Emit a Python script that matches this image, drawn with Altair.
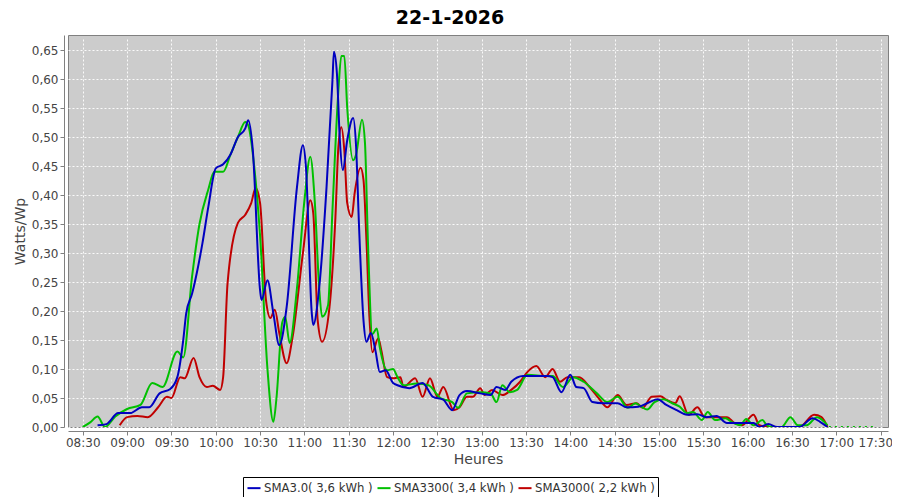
import altair as alt
import pandas as pd

# ---------------- data ----------------
series_names = ["SMA3.0( 3,6 kWh )", "SMA3300( 3,4 kWh )", "SMA3000( 2,2 kWh )"]
series_colors = ["#0000c0", "#00c000", "#c00000"]

blue_t = ["08:40","08:46","08:54","09:02","09:10","09:15","09:22","09:29","09:34","09:38","09:40","09:44","09:48","09:51","09:55","10:00","10:05","10:10","10:15","10:20","10:22","10:25","10:30","10:31","10:35","10:39","10:43","10:48","10:55","10:59","11:01","11:05","11:06","11:10","11:15","11:19","11:20","11:22","11:24","11:26","11:29","11:33","11:35","11:37","11:40","11:42","11:45","11:48","11:51","11:55","12:00","12:03","12:11","12:20","12:27","12:34","12:40","12:45","12:50","12:59","13:06","13:10","13:16","13:20","13:28","13:44","13:48","13:54","14:00","14:04","14:09","14:15","14:22","14:32","14:38","14:46","14:52","14:59","15:05","15:12","15:19","15:26","15:32","15:39","15:46","15:53","16:04","16:08","16:14","16:20","16:35","16:44","16:49","16:54"]
blue_v = [0.003,0.005,0.024,0.024,0.034,0.034,0.058,0.065,0.086,0.15,0.196,0.23,0.276,0.317,0.38,0.446,0.453,0.47,0.50,0.515,0.529,0.48,0.236,0.219,0.253,0.196,0.141,0.207,0.414,0.486,0.45,0.196,0.176,0.24,0.414,0.598,0.647,0.61,0.495,0.443,0.495,0.533,0.483,0.345,0.184,0.147,0.162,0.133,0.095,0.098,0.076,0.072,0.067,0.076,0.052,0.047,0.029,0.055,0.062,0.058,0.055,0.069,0.064,0.078,0.088,0.088,0.086,0.06,0.09,0.069,0.067,0.043,0.041,0.041,0.034,0.035,0.041,0.048,0.038,0.029,0.021,0.022,0.017,0.019,0.007,0.007,0.007,0.0,0.005,0.0,0.0,0.015,0.009,0.0]

green_t = ["08:30","08:35","08:40","08:45","08:52","09:00","09:09","09:17","09:24","09:34","09:38","09:44","09:49","09:55","09:59","10:05","10:10","10:15","10:20","10:22","10:26","10:30","10:35","10:39","10:41","10:45","10:47","10:50","10:55","11:00","11:04","11:07","11:10","11:12","11:16","11:19","11:23","11:25","11:27","11:29","11:33","11:35","11:39","11:41","11:43","11:46","11:49","11:51","11:56","12:00","12:03","12:07","12:16","12:24","12:32","12:40","12:44","12:50","12:59","13:06","13:10","13:14","13:19","13:24","13:31","13:44","13:48","13:55","14:02","14:09","14:18","14:25","14:32","14:39","14:44","14:48","14:52","14:57","15:03","15:09","15:14","15:19","15:23","15:29","15:33","15:38","15:45","15:49","15:55","15:59","16:04","16:10","16:13","16:17","16:23","16:29","16:34","16:40","16:47","16:54"]
green_v = [0.0,0.008,0.018,0.0,0.018,0.031,0.038,0.076,0.069,0.13,0.12,0.26,0.35,0.41,0.44,0.44,0.47,0.50,0.526,0.52,0.45,0.33,0.10,0.009,0.047,0.18,0.19,0.145,0.24,0.39,0.466,0.39,0.24,0.19,0.21,0.374,0.58,0.64,0.64,0.55,0.46,0.47,0.53,0.49,0.32,0.16,0.17,0.138,0.098,0.10,0.086,0.072,0.075,0.072,0.05,0.043,0.033,0.058,0.06,0.058,0.043,0.072,0.06,0.064,0.09,0.088,0.088,0.069,0.086,0.078,0.058,0.043,0.052,0.033,0.041,0.035,0.03,0.043,0.048,0.041,0.035,0.024,0.026,0.012,0.026,0.012,0.015,0.009,0.003,0.014,0.003,0.012,0.003,0.0,0.0,0.017,0.003,0.003,0.017,0.003]

green_tail_t = ["16:55","17:00","17:05","17:10","17:15","17:20","17:25"]
green_tail_v = [0.0,0.0,0.0,0.0,0.0,0.0,0.0]

red_t = ["08:55","09:00","09:07","09:14","09:21","09:27","09:30","09:36","09:39","09:45","09:49","09:54","09:58","10:03","10:05","10:08","10:15","10:20","10:24","10:27","10:30","10:34","10:37","10:40","10:43","10:48","10:52","10:59","11:04","11:06","11:09","11:12","11:17","11:21","11:23","11:25","11:27","11:29","11:32","11:34","11:38","11:40","11:42","11:44","11:46","11:50","11:52","11:56","12:00","12:05","12:07","12:15","12:20","12:25","12:30","12:34","12:41","12:45","12:50","12:54","12:59","13:02","13:07","13:14","13:20","13:26","13:31","13:37","13:43","13:48","13:53","13:58","14:06","14:13","14:20","14:25","14:32","14:38","14:45","14:49","14:55","15:01","15:05","15:11","15:14","15:20","15:26","15:31","15:38","15:46","15:51","15:56","16:04","16:08","16:15","16:35","16:45","16:50","16:54"]
red_v = [0.003,0.017,0.019,0.017,0.034,0.052,0.05,0.086,0.084,0.119,0.086,0.069,0.071,0.064,0.086,0.248,0.352,0.366,0.386,0.412,0.386,0.219,0.188,0.202,0.162,0.11,0.155,0.3,0.391,0.369,0.184,0.147,0.207,0.362,0.483,0.517,0.478,0.386,0.362,0.403,0.447,0.426,0.322,0.19,0.129,0.153,0.133,0.086,0.084,0.086,0.069,0.084,0.052,0.084,0.052,0.069,0.029,0.034,0.052,0.052,0.067,0.055,0.064,0.055,0.064,0.078,0.095,0.105,0.086,0.10,0.078,0.086,0.086,0.069,0.047,0.034,0.055,0.038,0.041,0.033,0.052,0.053,0.047,0.041,0.053,0.021,0.034,0.017,0.017,0.017,0.007,0.003,0.021,0.003,0.0,0.0,0.021,0.017,0.0]

x_ticks = ["08:30","09:00","09:30","10:00","10:30","11:00","11:30","12:00","12:30","13:00","13:30","14:00","14:30","15:00","15:30","16:00","16:30","17:00","17:30"]
y_ticks = [0.0,0.05,0.10,0.15,0.20,0.25,0.30,0.35,0.40,0.45,0.50,0.55,0.60,0.65]


def to_min(s):
    h, m = s.split(":")
    return int(h) * 60 + int(m)


def frame(times, vals, name):
    return pd.DataFrame({"t": [to_min(s) for s in times], "v": vals, "s": name})


df_blue = frame(blue_t, blue_v, series_names[0])
df_green = frame(green_t, green_v, series_names[1])
df_red = frame(red_t, red_v, series_names[2])
df_tail = frame(green_tail_t, green_tail_v, series_names[1])

x_scale = alt.Scale(domain=[to_min("08:20"), to_min("17:35")], nice=False, zero=False)
y_scale = alt.Scale(domain=[0, 0.676], nice=False)
color_scale = alt.Scale(domain=series_names, range=series_colors)

x_axis = alt.Axis(
    values=[to_min(s) for s in x_ticks],
    labelExpr="timeFormat(datetime(2026,0,22,0,datum.value),'%H:%M')",
    title="Heures",
    labelFlush=10,
    labelFlushOffset=12,
)
y_axis = alt.Axis(
    values=y_ticks,
    labelExpr="replace(format(datum.value,'.2f'),'.',',')",
    title="Watts/Wp",
)


def line(df, **kw):
    return alt.Chart(df).mark_line(strokeWidth=2, interpolate="monotone", clip=True, **kw).encode(
        x=alt.X("t:Q", scale=x_scale, axis=x_axis),
        y=alt.Y("v:Q", scale=y_scale, axis=y_axis),
        color=alt.Color(
            "s:N",
            scale=color_scale,
            legend=alt.Legend(
                title=None,
                orient="none",
                legendX=175,
                legendY=442,
                direction="horizontal",
                strokeColor="black",
                fillColor="white",
                padding=3,
                symbolType="stroke",
                symbolStrokeWidth=2,
                symbolSize=170,
                labelFontSize=11.7,
                labelFont="DejaVu Sans",
                labelColor="#333333",
                columnPadding=0,
                labelOffset=2,
            ),
        ),
    )


chart = (
    alt.layer(
        line(df_red),
        line(df_green),
        line(df_tail, strokeDash=[2, 4]),
        line(df_blue),
    )
    .properties(
        width=820,
        height=392,
        autosize=alt.AutoSizeParams(type="none"),
        padding={"left": 60, "top": 27, "right": 4, "bottom": 70},
        title=alt.TitleParams(
            "22-1-2026",
            font="DejaVu Sans",
            fontSize=19,
            fontWeight="bold",
            color="black",
            anchor="middle",
            offset=7,
            dx=-28,
        ),
    )
    .configure_view(fill="#cccccc", stroke="#808080", strokeWidth=1)
    .configure_axis(
        offset=4,
        domainColor="#808080",
        tickColor="#808080",
        tickSize=4,
        labelFont="DejaVu Sans",
        labelFontSize=12,
        labelColor="#444444",
        labelPadding=2,
        titleFont="DejaVu Sans",
        titleFontSize=14,
        titleFontWeight="normal",
        titleColor="#444444",
        gridColor="#ffffff",
        gridDash=[2, 2],
        gridOpacity=0.9,
    )
    .configure_axisX(titlePadding=4)
    .configure_axisY(titlePadding=4)
)

chart.save("out.html", embed_options={"renderer": "svg", "actions": False})
